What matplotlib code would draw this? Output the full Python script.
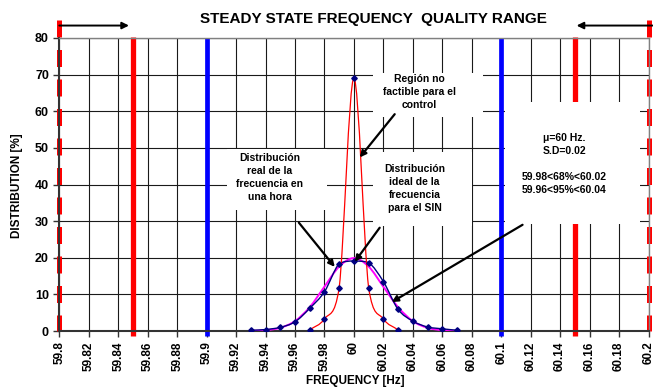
import matplotlib

matplotlib.use("Agg")
import matplotlib.pyplot as plt
import numpy as np
from matplotlib.patches import PathPatch, Rectangle
from matplotlib.path import Path

plt.rcParams["font.family"] = ["Liberation Sans", "DejaVu Sans"]
plt.rcParams["font.weight"] = "bold"

# frequency axis (Hz) and distributions (%)
freq_real = [59.93, 59.94, 59.95, 59.96, 59.97, 59.98, 59.99, 60.00,
             60.01, 60.02, 60.03, 60.04, 60.05, 60.06, 60.07]
dist_real = [0.2, 0.4, 1.0, 2.5, 6.2, 10.7, 18.4, 19.1,
             18.7, 13.5, 5.9, 2.7, 1.1, 0.6, 0.2]
dist_ideal = [0.04, 0.22, 0.88, 2.7, 6.5, 12.1, 17.6, 19.9,
              17.6, 12.1, 6.5, 2.7, 0.88, 0.22, 0.04]
freq_narrow = [59.97, 59.98, 59.99, 60.00, 60.01, 60.02, 60.03]
dist_narrow = [0.3, 3.3, 11.8, 69.0, 11.8, 3.3, 0.3]

limit_red = [59.85, 60.15]
limit_blue = [59.9, 60.1]
limit_edge = [59.8, 60.2]

xticks = [59.8, 59.82, 59.84, 59.86, 59.88, 59.9, 59.92, 59.94, 59.96, 59.98, 60.0,
          60.02, 60.04, 60.06, 60.08, 60.1, 60.12, 60.14, 60.16, 60.18, 60.2]
xtick_labels = ["59.8", "59.82", "59.84", "59.86", "59.88", "59.9", "59.92", "59.94",
                "59.96", "59.98", "60", "60.02", "60.04", "60.06", "60.08", "60.1",
                "60.12", "60.14", "60.16", "60.18", "60.2"]
yticks = [0, 10, 20, 30, 40, 50, 60, 70, 80]


def smooth(ax, x, y, color, lw, z):
    # smoothed line like a spreadsheet chart: cubic Hermite pieces,
    # slopes limited per side so no piece overshoots its end points
    x = np.asarray(x, float)
    y = np.asarray(y, float)
    d = np.diff(y) / np.diff(x)
    n = len(y)
    m_in = np.zeros(n)
    m_out = np.zeros(n)
    m_out[0], m_in[-1] = d[0], d[-1]
    for i in range(1, n - 1):
        if d[i - 1] * d[i] > 0:
            cr = (y[i + 1] - y[i - 1]) / (x[i + 1] - x[i - 1])
            m_in[i] = np.sign(cr) * min(abs(cr), 3 * abs(d[i - 1]))
            m_out[i] = np.sign(cr) * min(abs(cr), 3 * abs(d[i]))
    verts, codes = [(x[0], y[0])], [Path.MOVETO]
    for i in range(n - 1):
        h = x[i + 1] - x[i]
        verts += [(x[i] + h / 3, y[i] + m_out[i] * h / 3),
                  (x[i + 1] - h / 3, y[i + 1] - m_in[i + 1] * h / 3),
                  (x[i + 1], y[i + 1])]
        codes += [Path.CURVE4] * 3
    ax.add_patch(PathPatch(Path(verts, codes), fill=False, ec=color, lw=lw, zorder=z))


fig = plt.figure(figsize=(6.53, 3.92), dpi=100)
ax = fig.add_axes([59.3 / 653, 1 - 331 / 392, (648.5 - 59.3) / 653, (331 - 38) / 392])
ax.set_xlim(59.8, 60.2)
ax.set_ylim(0, 80)
ax.set_axisbelow(True)
ax.grid(True, color="#1a1a1a", lw=0.8)

ax.set_xticks(xticks)
ax.set_xticklabels(xtick_labels, rotation=90, fontsize=8.5, fontweight="bold")
ax.set_yticks(yticks)
ax.set_yticklabels([str(v) for v in yticks], fontsize=9, fontweight="bold")
ax.tick_params(direction="out", length=4.5, width=1, color="#333333", pad=3)
for s in ["left", "bottom"]:
    ax.spines[s].set_color("#333333")
    ax.spines[s].set_linewidth(1.5)
for s in ["top", "right"]:
    ax.spines[s].set_color("#808080")
    ax.spines[s].set_linewidth(1.0)

# limit lines
for x in limit_red:
    ax.plot([x, x], [-1.5, 80.3], color="#ff0000", lw=3.8, clip_on=False,
            solid_capstyle="butt", zorder=2)
for x in limit_blue:
    ax.plot([x, x], [-1.5, 80], color="#0000ff", lw=3.4, clip_on=False,
            solid_capstyle="butt", zorder=2)
for x in limit_edge:
    ax.plot([x, x], [85, 0], color="#ff0000", lw=3.6, clip_on=False,
            dashes=(3.4, 2.5), zorder=2)

# distributions
smooth(ax, freq_real, dist_ideal, "#ff00ff", 1.4, 3)
smooth(ax, freq_real, dist_real, "#000080", 1.0, 3.1)
ax.plot(freq_real, dist_real, ls="none", marker="D", ms=2.8, color="#000080", zorder=3.3)
smooth(ax, freq_narrow, dist_narrow, "#ff0000", 0.9, 3.2)
ax.plot(freq_narrow, dist_narrow, ls="none", marker="D", ms=2.8, color="#000080", zorder=3.3)

# white label boxes
boxes = [(60.1023, 29.2, 60.1939 - 60.1023, 62.6 - 29.2),
         (60.0128, 58.5, 60.0874 - 60.0128, 70.5 - 58.5),
         (60.0128, 28.7, 60.0799 - 60.0128, 48.9 - 28.7),
         (59.9138, 33.1, 59.9816 - 59.9138, 49.7 - 33.1)]
for bx, by, bw, bh in boxes:
    ax.add_patch(Rectangle((bx, by), bw, bh, fc="white", ec="none", zorder=4))

tk = dict(ha="center", va="center", fontsize=7.5, fontweight="bold",
          linespacing=1.38, zorder=5, multialignment="center")
ax.text(60.1430, 45.5, "μ=60 Hz.\nS.D=0.02\n\n59.98<68%<60.02\n59.96<95%<60.04", **tk)
ax.text(60.0447, 65.3, "Región no\nfactible para el\ncontrol", **tk)
ax.text(60.0413, 38.9, "Distribución\nideal de la\nfrecuencia\npara el SIN", **tk)
ax.text(59.9429, 41.9, "Distribución\nreal de la\nfrecuencia en\nuna hora", **tk)

ap = dict(arrowstyle="-|>", color="black", lw=1.6, mutation_scale=9,
          shrinkA=0, shrinkB=0)
for head, tail in [((59.9870, 17.5), (59.9626, 29.6)),
                   ((60.0006, 18.9), (60.0175, 28.2)),
                   ((60.0040, 47.4), (60.0277, 59.2)),
                   ((60.0257, 7.9), (60.1145, 29.0))]:
    ax.annotate("", xy=head, xytext=tail, arrowprops=ap, zorder=6)

ap_top = dict(arrowstyle="-|>", color="black", lw=1.4, mutation_scale=10,
              shrinkA=0, shrinkB=0)
ax.annotate("", xy=(59.8473, 83.4), xytext=(59.8, 83.4), arrowprops=ap_top,
            annotation_clip=False)
ax.annotate("", xy=(60.1512, 83.4), xytext=(60.2027, 83.4), arrowprops=ap_top,
            annotation_clip=False)

fig.text(373 / 653, 1 - 19 / 392, "STEADY STATE FREQUENCY  QUALITY RANGE",
         ha="center", va="center", fontsize=11, fontweight="bold")
fig.text(355 / 653, 1 - 381 / 392, "FREQUENCY [Hz]", ha="center", va="center",
         fontsize=8.5, fontweight="bold")
fig.text(17 / 653, 1 - 186 / 392, "DISTRIBUTION [%]", ha="center", va="center",
         rotation=90, fontsize=8.5, fontweight="bold")

fig.savefig("out.png", dpi=100)
